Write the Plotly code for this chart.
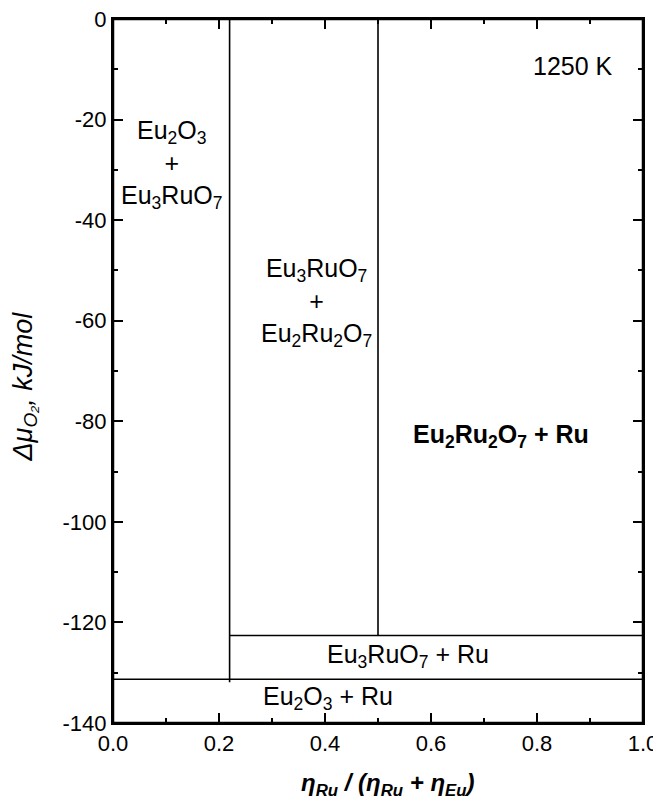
import plotly.graph_objects as go

# ---- data ----
x_boundary_eu3ruo7 = 0.22     # Eu2O3+Eu3RuO7 | Eu3RuO7+Eu2Ru2O7
x_boundary_eu2ru2o7 = 0.50    # Eu3RuO7+Eu2Ru2O7 | Eu2Ru2O7+Ru
mu_eu3ruo7_ru = -122.6        # Eu2Ru2O7 decomposition (kJ/mol)
mu_eu2o3_ru = -131.3          # Eu3RuO7 decomposition (kJ/mol)
mu_top = 0.0
x_left, x_right = 0.0, 1.0

seg_x = [x_boundary_eu3ruo7, x_boundary_eu3ruo7, None,
         x_boundary_eu2ru2o7, x_boundary_eu2ru2o7, None,
         x_boundary_eu3ruo7, x_right, None,
         x_left, x_right]
seg_y = [mu_top, mu_eu2o3_ru - 0.6, None,
         mu_top, mu_eu3ruo7_ru, None,
         mu_eu3ruo7_ru, mu_eu3ruo7_ru, None,
         mu_eu2o3_ru, mu_eu2o3_ru]

label_texts = [
    "Eu<sub>2</sub>O<sub>3</sub><br>+<br>Eu<sub>3</sub>RuO<sub>7</sub>",
    "Eu<sub>3</sub>RuO<sub>7</sub><br>+<br>Eu<sub>2</sub>Ru<sub>2</sub>O<sub>7</sub>",
    "<b>Eu<sub>2</sub>Ru<sub>2</sub>O<sub>7</sub> + Ru</b>",
    "Eu<sub>3</sub>RuO<sub>7</sub> + Ru",
    "Eu<sub>2</sub>O<sub>3</sub> + Ru",
    "1250 K",
]
label_x = [0.11, 0.384, 0.733, 0.556, 0.405, 0.868]
label_y = [-29.0, -56.4, -83.0, -126.6, -135.0, -9.3]

x_ticks = [0.0, 0.2, 0.4, 0.6, 0.8, 1.0]
x_ticklabels = ["0.0", "0.2", "0.4", "0.6", "0.8", "1.0"]
y_ticks = [0, -20, -40, -60, -80, -100, -120, -140]
y_ticklabels = ["0", "-20", "-40", "-60", "-80", "-100", "-120", "-140"]

FONT = "Liberation Sans, Arial, Helvetica, sans-serif"

fig = go.Figure()
fig.add_trace(go.Scatter(x=seg_x, y=seg_y, mode="lines",
                         line=dict(color="black", width=1.6),
                         showlegend=False, hoverinfo="skip"))

for t, x, y in zip(label_texts, label_x, label_y):
    fig.add_annotation(x=x, y=y, xref="x", yref="y", text=t, showarrow=False,
                       font=dict(family=FONT, size=25, color="black"),
                       xanchor="center", yanchor="middle", align="center")

# axis titles
fig.add_annotation(x=-0.166, y=0.478, xref="paper", yref="paper",
                   text="<i>Δμ<sub>O₂</sub>, kJ/mol</i>", textangle=-90,
                   showarrow=False, font=dict(family=FONT, size=27, color="black"),
                   xanchor="center", yanchor="middle")
fig.add_annotation(x=0.519, y=-0.087, xref="paper", yref="paper",
                   text="<b><i>η<sub>Ru</sub> / (η<sub>Ru</sub> + η<sub>Eu</sub>)</i></b>",
                   showarrow=False, font=dict(family=FONT, size=24, color="black"),
                   xanchor="center", yanchor="middle")

# frame around the plotting area
fig.add_shape(type="rect", xref="paper", yref="paper", x0=0, x1=1, y0=0, y1=1,
              line=dict(color="black", width=2.5), layer="above")

axis_common = dict(showline=True, linecolor="black", linewidth=2, mirror="ticks",
                   ticks="inside", ticklen=10, tickwidth=2, tickcolor="black",
                   showgrid=False, zeroline=False, automargin=False,
                   ticklabeloverflow="allow",
                   tickfont=dict(family=FONT, size=22, color="black"))

fig.update_xaxes(range=[x_left, x_right], tickvals=x_ticks, ticktext=x_ticklabels,
                 minor=dict(dtick=0.1, ticks="inside", ticklen=5, tickwidth=2,
                            tickcolor="black", showgrid=False),
                 **axis_common)
fig.update_yaxes(range=[-140, 0], tickvals=y_ticks, ticktext=y_ticklabels,
                 minor=dict(dtick=10, ticks="inside", ticklen=5, tickwidth=2,
                            tickcolor="black", showgrid=False),
                 **axis_common)

# page body has an 8px margin; size the figure so it fits the 661x801 window
fig.update_layout(width=653, height=793,
                  margin=dict(l=105, r=18, t=11, b=78),
                  plot_bgcolor="white", paper_bgcolor="white",
                  font=dict(family=FONT, color="black"))

fig.write_html("out.html")
